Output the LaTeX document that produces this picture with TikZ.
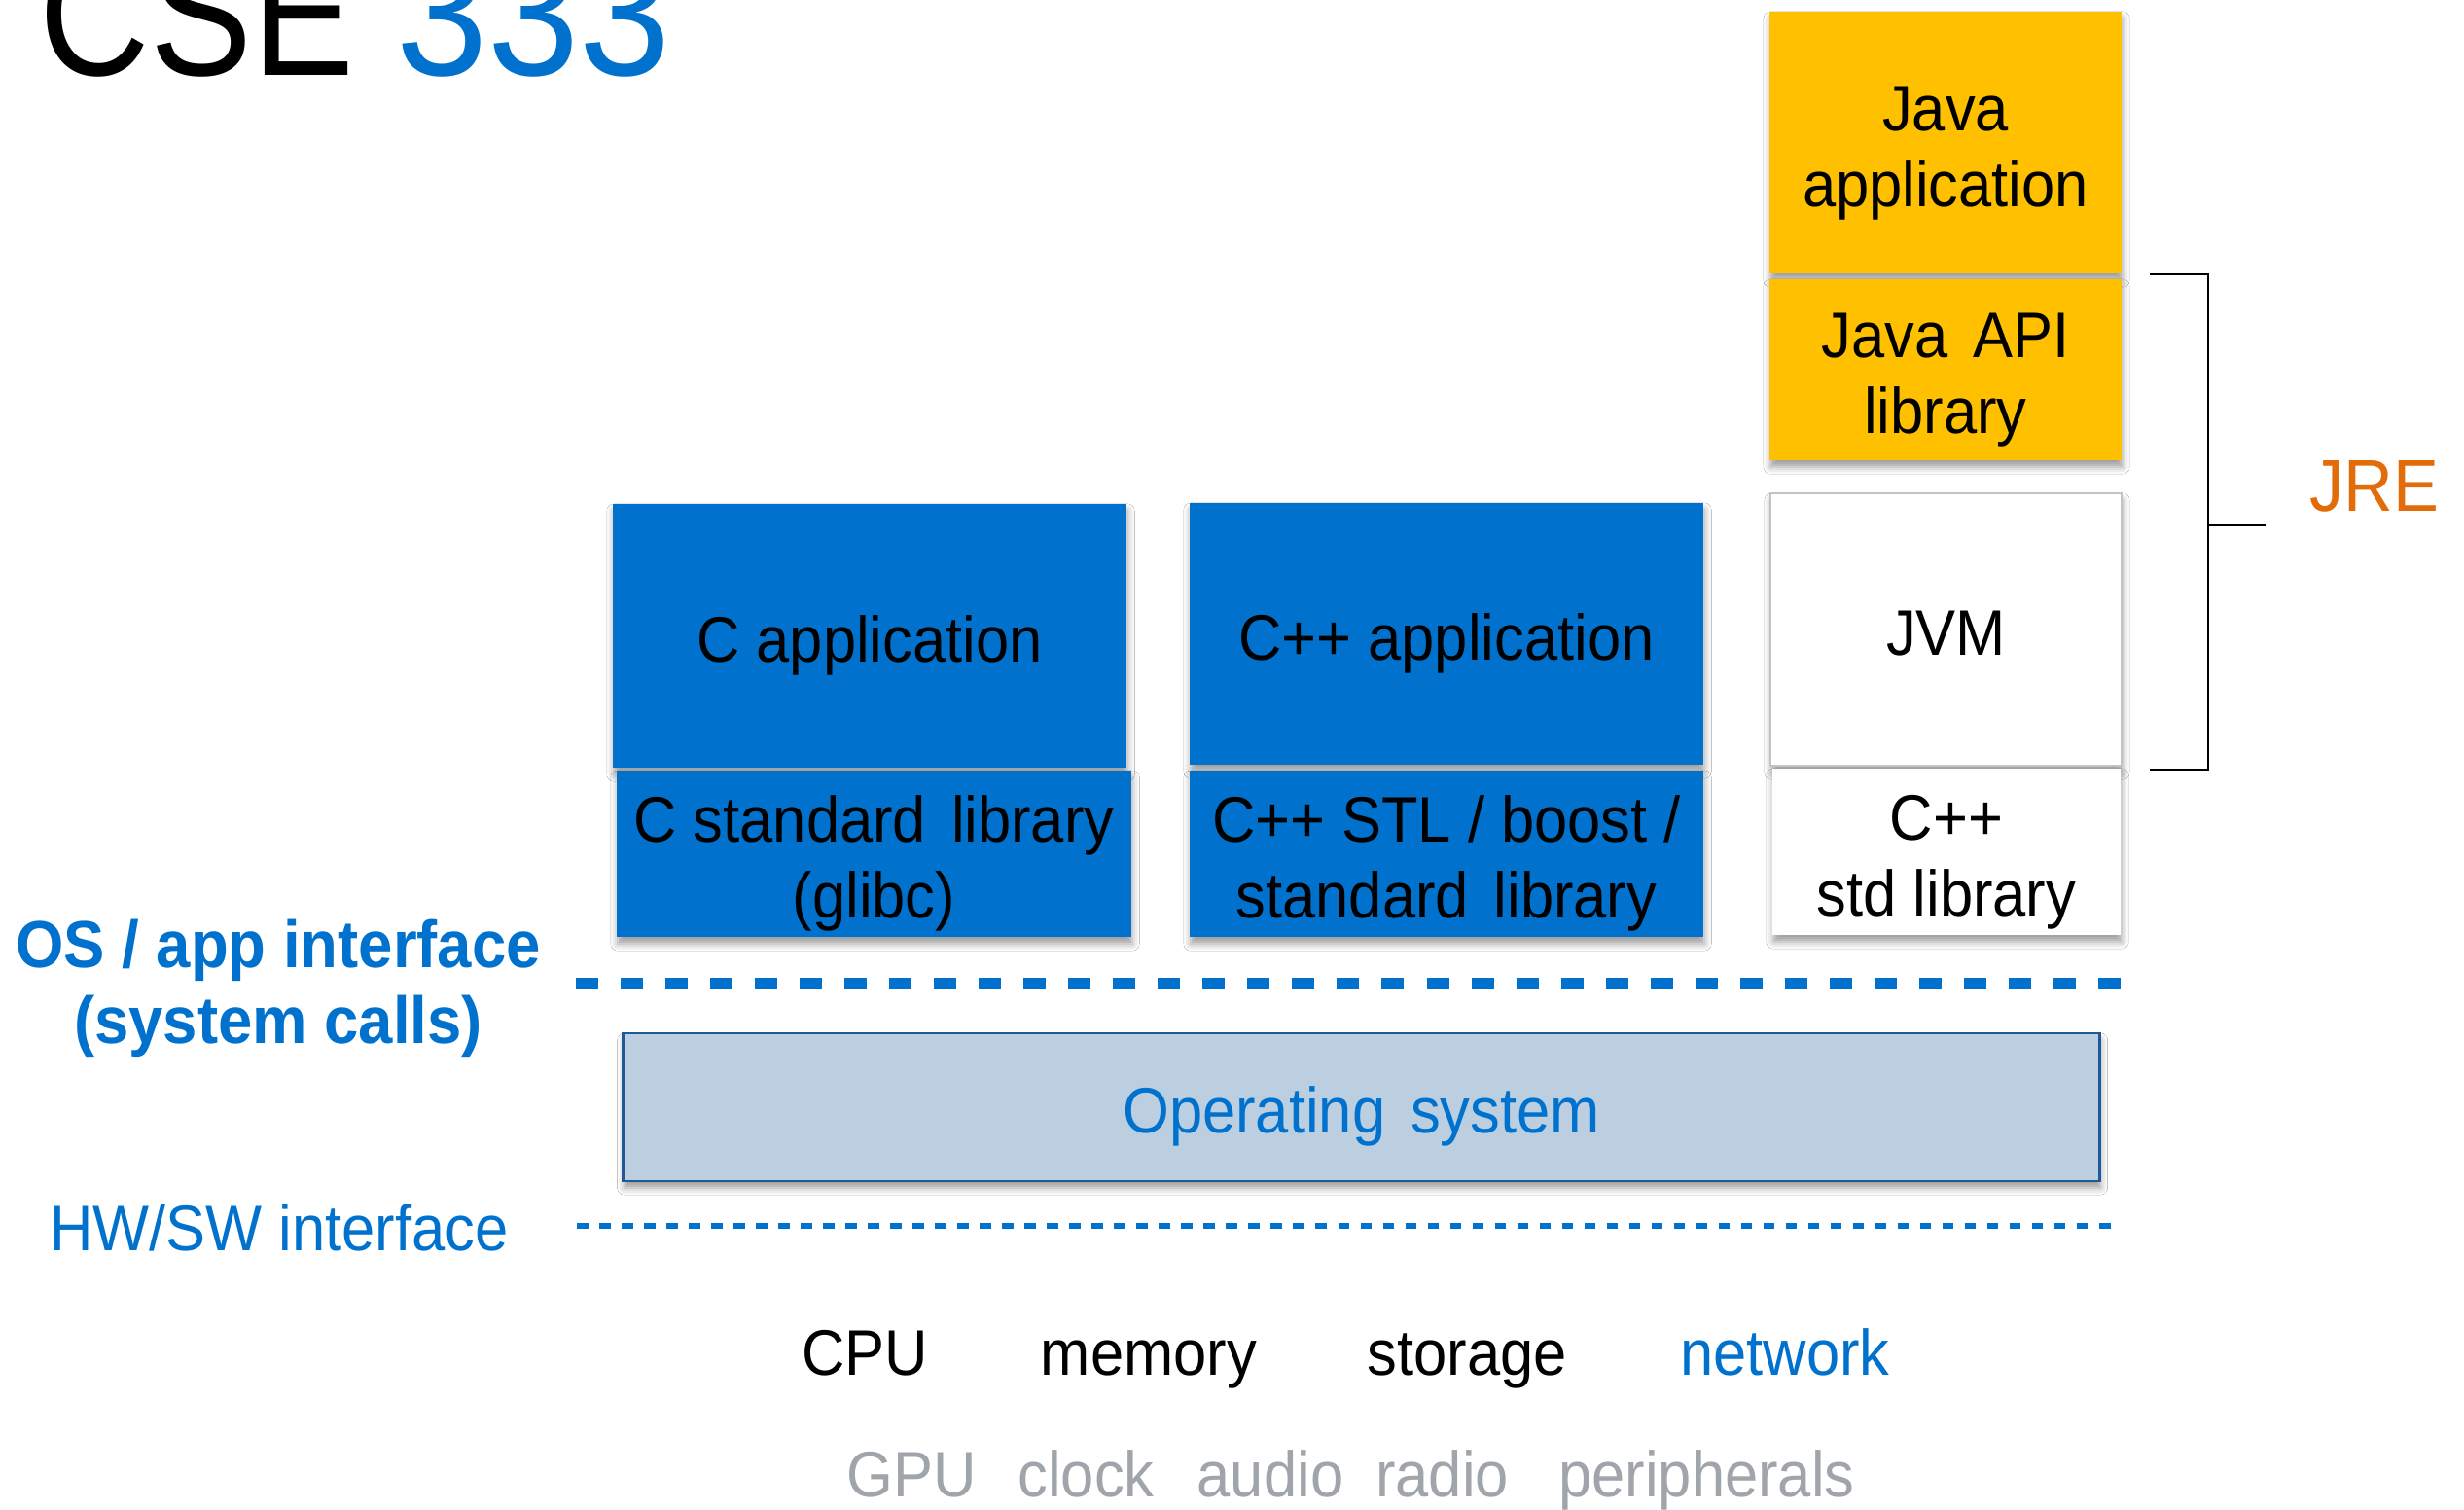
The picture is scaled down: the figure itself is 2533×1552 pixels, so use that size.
\documentclass[tikz,border=0pt]{standalone}
\usepackage{fontspec}
\setmainfont{Liberation Sans}[FakeStretch=0.93]
\newfontfamily\titlefont{Liberation Sans}[FakeStretch=0.86]
\newfontfamily\titlenum{Liberation Sans}[FakeStretch=0.925]
\usetikzlibrary{shadows.blur}

\definecolor{boxblue}{RGB}{0,114,206}
\definecolor{javayel}{RGB}{255,192,0}
\definecolor{osfill}{RGB}{188,207,224}
\definecolor{osline}{RGB}{31,90,150}
\definecolor{hwgray}{RGB}{160,164,171}
\definecolor{jreorange}{RGB}{227,108,10}
\definecolor{jvmline}{RGB}{195,195,195}

% struts that give every box label the same ascent and descent
\newcommand\tstrut{\rule{0pt}{20pt}}
\newcommand\bstrut{\rule[-4.7pt]{0pt}{4.7pt}}
\newcommand\wsp{\hspace{2.5pt}}

\begin{document}
\begin{tikzpicture}[x=0.01cm, y=-0.01cm,
  txt/.style={inner sep=0pt, font=\fontsize{18.8pt}{22.2pt}\selectfont},
  boldtxt/.style={inner sep=0pt, font=\fontsize{19.4pt}{22.2pt}\selectfont\bfseries},
  layer/.style={rectangle, inner sep=0pt, align=center,
    font=\fontsize{18.8pt}{22.2pt}\selectfont,
    blur shadow={shadow xshift=0.3pt, shadow yshift=-2pt,
      shadow blur radius=2pt, shadow opacity=38}},
  cbox/.style={layer, fill=boxblue},
  jbox/.style={layer, fill=javayel},
  wbox/.style={layer, fill=white},
  bracket/.style={draw=black, line width=0.6pt},
  syscall/.style={draw=boxblue, line width=0.12cm, dash pattern=on 0.23cm off 0.23cm},
  hwline/.style={draw=boxblue, line width=0.06cm, dash pattern=on 0.115cm off 0.115cm},
]
\useasboundingbox (0,0) rectangle (2533,1552);
\fill[white] (0,0) rectangle (2533,1552);

% title, partly above the top edge
\begin{scope}
\clip (0,0) rectangle (2533,1552);
\node[anchor=base west, inner sep=0pt, font=\titlefont\fontsize{52pt}{60pt}\selectfont]
  (title) at (40,78) {CSE {\titlenum\color{boxblue}333}};
\end{scope}

% C stack
\node[cbox, minimum width=5.28cm, minimum height=2.71cm] (capp) at (894,653.5)
  {\tstrut\bstrut C application};
\node[cbox, minimum width=5.29cm, minimum height=1.71cm] (clib) at (898.5,877.5)
  {\tstrut C standard\wsp{} library\\(glibc)\bstrut};

% C++ stack
\node[cbox, minimum width=5.28cm, minimum height=2.69cm] (cppapp) at (1487,651.5)
  {\tstrut\bstrut C++ application};
\node[cbox, minimum width=5.28cm, minimum height=1.71cm] (cpplib) at (1487,877.5)
  {\tstrut C++ STL / boost /\\standard\wsp{} library\bstrut};

% Java stack
\node[jbox, minimum width=3.62cm, minimum height=2.69cm] (japp) at (2000,146.5)
  {\tstrut Java\\application\bstrut};
\node[jbox, minimum width=3.62cm, minimum height=1.86cm] (japi) at (2000,380)
  {\tstrut Java\wsp{} API\\library\bstrut};
\node[wbox, draw=jvmline, line width=0.5pt, minimum width=3.61cm, minimum height=2.80cm]
  (jvm) at (2000.5,647) {\tstrut\bstrut JVM};
\node[wbox, minimum width=3.58cm, minimum height=1.71cm] (cppstd) at (2001,875.5)
  {\tstrut C++\\std library\bstrut};

% JRE bracket
\coordinate (brtop) at (2210,282);
\coordinate (brbot) at (2210,791);
\coordinate (brspine) at (2270,540);
\coordinate (brtip) at (2329,540);
\draw[bracket] (brtop) -| (brspine) |- (brbot);
\draw[bracket] (brspine) -- (brtip);
\node[anchor=base west, inner sep=0pt, text=jreorange,
  font=\fontsize{21.5pt}{25pt}\selectfont] (jre) at (2374,525) {JRE};

% system call boundary
\draw[syscall] (592,1011) -- (2181,1011);
\node[boldtxt, align=center, text=boxblue] (osapi) at (286,1007)
  {\tstrut OS / app interface\\(system calls)\bstrut};

% operating system
\node[layer, fill=osfill, draw=osline, line width=0.7pt, text=boxblue,
  minimum width=15.17cm, minimum height=1.52cm] (os) at (1399.5,1138)
  {\tstrut\bstrut Operating\wsp{} system};

% hardware / software boundary
\draw[hwline] (593,1260) -- (2172,1260);
\node[txt, anchor=base, text=boxblue] (hwsw) at (287,1285) {HW/SW interface};

% hardware resources
\node[txt, anchor=base] (cpu) at (889,1413) {CPU};
\node[txt, anchor=base] (mem) at (1181,1413) {memory};
\node[txt, anchor=base] (sto) at (1508.5,1413) {storage};
\node[txt, anchor=base, text=boxblue] (net) at (1835,1413) {network};

\node[txt, anchor=base, text=hwgray] (gpu) at (937,1538) {GPU};
\node[txt, anchor=base, text=hwgray] (clk) at (1116.5,1538) {clock};
\node[txt, anchor=base, text=hwgray] (aud) at (1306,1538) {audio};
\node[txt, anchor=base, text=hwgray] (rad) at (1482.5,1538) {radio};
\node[txt, anchor=base, text=hwgray] (per) at (1754.5,1538) {peripherals};
\end{tikzpicture}
\end{document}
